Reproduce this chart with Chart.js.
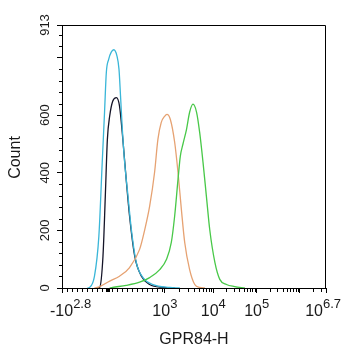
<!DOCTYPE html>
<html>
<head>
<meta charset="utf-8">
<script src="https://cdn.jsdelivr.net/npm/chart.js@4/dist/chart.umd.min.js"></script>
<style>
  html, body { margin: 0; padding: 0; background: #fff; }
  #wrap { width: 342px; height: 350px; }
</style>
</head>
<body>
<div id="wrap"><canvas id="hist" width="342" height="350"></canvas></div>
<script>
// Histogram data: x in display channels (0..1024 over the biexponential axis), y in event counts.
const cyanX   = [99, 107, 126, 143, 156, 165, 172, 181, 191, 201, 213, 221, 227, 234, 243, 256, 269, 288, 314, 353, 418, 457];
const cyanY   = [0, 2, 41, 180, 436, 610, 749, 794, 819, 827, 806, 760, 667, 551, 436, 319, 203, 89, 36, 12, 2, 0];

const blackX  = [138, 146, 159, 168, 176, 185, 197, 211, 223, 236, 249, 262, 282, 308, 340, 392, 437];
const blackY  = [0, 2, 111, 319, 516, 597, 649, 661, 632, 516, 377, 250, 111, 41, 12, 2, 0];

const orangeX = [126, 146, 185, 223, 262, 301, 321, 340, 359, 372, 385, 398, 407, 420, 437, 450, 463, 476, 495, 515, 534, 554];
const orangeY = [0, 5, 24, 41, 71, 134, 203, 284, 401, 516, 575, 596, 603, 586, 506, 401, 273, 158, 64, 12, 2, 0];

const greenX  = [185, 196, 249, 301, 340, 379, 405, 424, 437, 450, 459, 469, 483, 495, 508, 522, 534, 547, 560, 573, 593, 612, 638, 670, 709];
const greenY  = [0, 2, 9, 20, 36, 64, 99, 158, 250, 377, 458, 499, 551, 610, 638, 610, 540, 436, 319, 203, 89, 30, 12, 5, 0];

// Axis definitions
const xMax = 1024;
const yMax = 913;
const xTickChannels = [0, 399, 587, 755, 923, 1024];
const xTickBase     = ['-10', '10', '10', '10', '', '10'];
const xTickExp      = ['2.8', '3', '4', '5', '', '6.7'];
const zeroChannel   = 178;
const yTickValues   = [0, 200, 400, 600, 800, 913];
const yTickLabels   = ['0', '200', '400', '600', '', '913'];

const pairs = (xs, ys) => xs.map((x, i) => ({ x: x, y: ys[i] }));

function series(xs, ys, color) {
  return {
    data: pairs(xs, ys),
    borderColor: color,
    borderWidth: 1.3,
    pointRadius: 0,
    fill: false,
    cubicInterpolationMode: 'monotone'
  };
}

const FONT = '"Liberation Sans", Arial, sans-serif';

// Minor ticks, frame, zero marker and all axis text
const decorations = {
  id: 'decorations',
  afterDraw(chart) {
    const { ctx, chartArea: a, scales: { x, y } } = chart;
    ctx.save();
    ctx.strokeStyle = '#000';
    ctx.lineWidth = 1;

    // top and right frame
    ctx.beginPath();
    ctx.moveTo(Math.round(a.left) + 0.5, Math.round(a.top) + 0.5);
    ctx.lineTo(Math.round(a.right) - 0.5, Math.round(a.top) + 0.5);
    ctx.lineTo(Math.round(a.right) - 0.5, Math.round(a.bottom) + 0.5);
    ctx.stroke();

    // y minor ticks every 40 counts
    ctx.beginPath();
    for (let v = 40; v < yMax; v += 40) {
      if (v % 200 === 0) continue;
      const py = Math.round(y.getPixelForValue(v)) + 0.5;
      ctx.moveTo(a.left - 3, py);
      ctx.lineTo(a.left, py);
    }
    // x minor ticks: linear region below 10^3, log steps within each decade above
    const minors = [];
    for (let c = 19.4; c < xTickChannels[1] - 5; c += 19.4) minors.push(c);
    for (let d = 1; d < 4; d++) {
      const c0 = xTickChannels[d];
      const w = xTickChannels[d + 1] - c0;
      for (let k = 2; k <= 9; k++) minors.push(c0 + Math.log10(k) * w);
    }
    const w6 = xTickChannels[4] - xTickChannels[3];
    for (let k = 2; k <= 9; k++) {
      const c = xTickChannels[4] + Math.log10(k) * w6;
      if (c < xMax - 3) minors.push(c);
    }
    minors.forEach(c => {
      const px = Math.round(x.getPixelForValue(c)) + 0.5;
      ctx.moveTo(px, a.bottom);
      ctx.lineTo(px, a.bottom + 4);
    });
    ctx.stroke();

    // zero marker
    ctx.fillStyle = '#000';
    const zx = x.getPixelForValue(zeroChannel);
    ctx.fillRect(Math.round(zx) - 2, a.bottom, 4, 4);

    // y tick labels, rotated
    ctx.fillStyle = '#1a1a1a';
    ctx.font = '13px ' + FONT;
    ctx.textAlign = 'center';
    ctx.textBaseline = 'alphabetic';
    yTickValues.forEach((v, i) => {
      if (!yTickLabels[i]) return;
      ctx.save();
      ctx.translate(48.5, y.getPixelForValue(v));
      ctx.rotate(-Math.PI / 2);
      ctx.fillText(yTickLabels[i], 0, 0);
      ctx.restore();
    });

    // x tick labels with exponents
    ctx.textAlign = 'left';
    xTickChannels.forEach((c, i) => {
      if (!xTickBase[i]) return;
      ctx.font = '16px ' + FONT;
      const wb = ctx.measureText(xTickBase[i]).width;
      ctx.font = '13px ' + FONT;
      const we = ctx.measureText(xTickExp[i]).width;
      const total = wb + we;
      let start = x.getPixelForValue(c) - total / 2;
      start = Math.max(50, Math.min(start, 341 - total));
      ctx.font = '16px ' + FONT;
      ctx.fillText(xTickBase[i], start, 316);
      ctx.font = '13px ' + FONT;
      ctx.fillText(xTickExp[i], start + wb, 308);
    });

    // axis titles
    ctx.font = '16px ' + FONT;
    ctx.textAlign = 'center';
    ctx.fillText('GPR84-H', 194, 343.5);
    ctx.save();
    ctx.translate(19.5, 157.5);
    ctx.rotate(-Math.PI / 2);
    ctx.fillText('Count', 0, 0);
    ctx.restore();

    ctx.restore();
  }
};

new Chart(document.getElementById('hist'), {
  type: 'line',
  data: {
    datasets: [
      series(greenX, greenY, '#48c848'),
      series(orangeX, orangeY, '#e6a272'),
      series(cyanX, cyanY, '#3ab6d8'),
      series(blackX, blackY, '#141428')
    ]
  },
  options: {
    responsive: false,
    animation: false,
    devicePixelRatio: 1,
    layout: { padding: { left: 57, top: 25, right: 16, bottom: 57 } },
    plugins: { legend: { display: false }, tooltip: { enabled: false } },
    scales: {
      x: {
        type: 'linear',
        min: 0,
        max: xMax,
        afterBuildTicks: s => { s.ticks = xTickChannels.map(v => ({ value: v })); },
        ticks: { display: false },
        grid: { drawOnChartArea: false, drawTicks: true, tickLength: 5, color: '#000', tickColor: '#000' },
        border: { display: true, color: '#000', width: 1 }
      },
      y: {
        type: 'linear',
        min: 0,
        max: yMax,
        afterBuildTicks: s => { s.ticks = yTickValues.map(v => ({ value: v })); },
        ticks: { display: false },
        grid: { drawOnChartArea: false, drawTicks: true, tickLength: 5, color: '#000', tickColor: '#000' },
        border: { display: true, color: '#000', width: 1 }
      }
    }
  },
  plugins: [decorations]
});
</script>
</body>
</html>
